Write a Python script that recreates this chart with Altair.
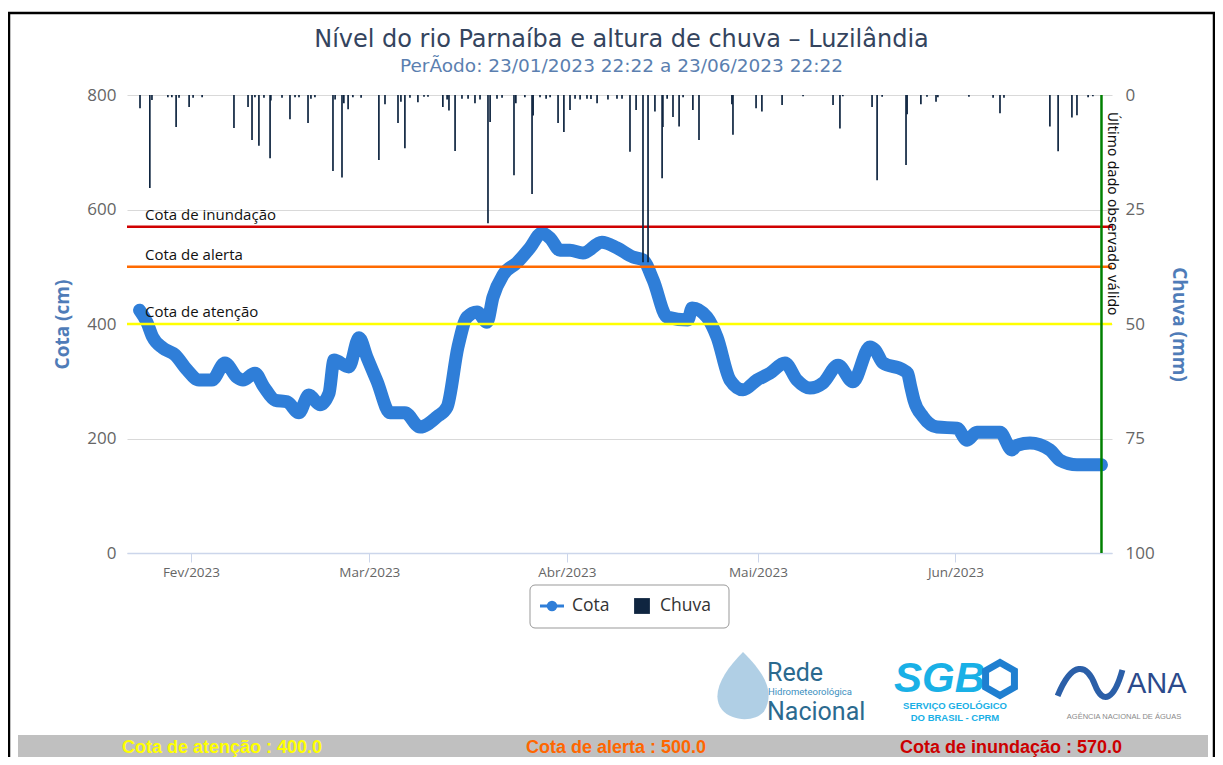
import altair as alt
import pandas as pd

# ---------------- data ----------------
cota_dates = [
    "2023-01-23T22:22", "2023-01-25T02:00", "2023-01-26T00:00", "2023-01-27T14:00", "2023-01-29T12:00",
    "2023-01-31T09:00", "2023-02-02T06:00", "2023-02-04T07:00", "2023-02-06T08:00", "2023-02-08T05:00",
    "2023-02-09T04:00", "2023-02-11T01:00", "2023-02-12T11:00", "2023-02-14T05:00", "2023-02-16T02:00",
    "2023-02-17T23:00", "2023-02-19T12:00", "2023-02-21T06:00", "2023-02-22T16:00", "2023-02-23T11:00",
    "2023-02-25T19:00", "2023-02-27T09:00", "2023-02-28T15:00", "2023-03-02T05:00", "2023-03-04T06:00",
    "2023-03-06T14:00", "2023-03-08T23:00", "2023-03-11T15:00", "2023-03-13T05:00", "2023-03-14T22:00",
    "2023-03-16T08:00", "2023-03-17T22:00", "2023-03-19T11:00", "2023-03-20T10:00", "2023-03-22T00:00",
    "2023-03-24T04:00", "2023-03-26T05:00", "2023-03-28T02:00", "2023-03-29T09:00", "2023-03-30T22:00",
    "2023-04-01T12:00", "2023-04-03T13:00", "2023-04-06T12:00", "2023-04-08T21:00", "2023-04-11T09:00",
    "2023-04-12T23:00", "2023-04-14T13:00", "2023-04-16T18:00", "2023-04-20T00:00", "2023-04-20T16:00",
    "2023-04-23T00:00", "2023-04-24T14:00", "2023-04-26T15:00", "2023-04-28T16:00", "2023-04-30T20:00",
    "2023-05-02T21:00", "2023-05-05T06:00", "2023-05-07T03:00", "2023-05-09T04:00", "2023-05-11T05:00",
    "2023-05-13T14:00", "2023-05-15T22:00", "2023-05-18T14:00", "2023-05-19T09:00", "2023-05-20T15:00",
    "2023-05-23T18:00", "2023-05-24T12:00", "2023-05-25T00:00", "2023-05-25T12:00", "2023-05-26T22:00",
    "2023-05-29T03:00", "2023-06-01T06:00", "2023-06-02T20:00", "2023-06-04T09:00", "2023-06-08T00:00",
    "2023-06-09T21:00", "2023-06-10T16:00", "2023-06-12T17:00", "2023-06-15T20:00", "2023-06-17T10:00",
    "2023-06-20T02:00", "2023-06-23T22:22",
]
cota_values = [
    424, 403, 377, 358, 346,
    320, 302, 302, 332, 307,
    302, 314, 290, 267, 264,
    245, 276, 259, 279, 337,
    325, 376, 342, 300, 245,
    245, 220, 238, 255, 360,
    412, 421, 403, 447, 486,
    507, 533, 559, 550, 529,
    529, 524, 543, 533, 517,
    512, 477, 412, 407, 428,
    412, 377, 302, 285, 302,
    314, 332, 302, 288, 297,
    328, 299, 360, 355, 332,
    320, 314, 290, 267, 238,
    220, 218, 197, 211, 211,
    180, 188, 192, 180, 162,
    154, 154,
]

chuva_dates = [
    "2023-01-24T00:00", "2023-01-25T13:00", "2023-01-25T21:00", "2023-01-28T09:00", "2023-01-29T00:00",
    "2023-01-29T16:00", "2023-01-30T03:00", "2023-01-31T17:00", "2023-02-01T08:00", "2023-02-02T18:00",
    "2023-02-07T18:00", "2023-02-09T23:00", "2023-02-10T14:00", "2023-02-11T01:00", "2023-02-11T16:00",
    "2023-02-12T11:00", "2023-02-13T10:00", "2023-02-13T13:00", "2023-02-15T07:00", "2023-02-16T13:00",
    "2023-02-17T08:00", "2023-02-17T23:00", "2023-02-19T09:00", "2023-02-19T20:00", "2023-02-20T11:00",
    "2023-02-23T07:00", "2023-02-23T15:00", "2023-02-24T17:00", "2023-02-25T00:00", "2023-02-25T16:00",
    "2023-02-26T10:00", "2023-02-27T17:00", "2023-03-02T12:00", "2023-03-03T11:00", "2023-03-05T12:00",
    "2023-03-05T23:00", "2023-03-06T14:00", "2023-03-07T09:00", "2023-03-08T15:00", "2023-03-09T14:00",
    "2023-03-10T05:00", "2023-03-12T13:00", "2023-03-13T05:00", "2023-03-13T12:00", "2023-03-14T11:00",
    "2023-03-15T13:00", "2023-03-16T12:00", "2023-03-17T14:00", "2023-03-18T09:00", "2023-03-19T15:00",
    "2023-03-19T23:00", "2023-03-21T01:00", "2023-03-21T20:00", "2023-03-23T17:00", "2023-03-24T00:00",
    "2023-03-25T10:00", "2023-03-26T13:00", "2023-03-26T17:00", "2023-03-27T19:00", "2023-03-28T18:00",
    "2023-03-29T09:00", "2023-03-30T15:00", "2023-03-31T13:00", "2023-04-01T12:00", "2023-04-02T07:00",
    "2023-04-03T02:00", "2023-04-04T04:00", "2023-04-04T19:00", "2023-04-05T18:00", "2023-04-07T11:00",
    "2023-04-08T21:00", "2023-04-09T16:00", "2023-04-10T22:00", "2023-04-11T21:00", "2023-04-12T23:00",
    "2023-04-13T18:00", "2023-04-14T20:00", "2023-04-15T23:00", "2023-04-16T02:00", "2023-04-16T18:00",
    "2023-04-17T16:00", "2023-04-18T15:00", "2023-04-19T06:00", "2023-04-20T19:00", "2023-04-21T18:00",
    "2023-04-26T22:00", "2023-04-27T02:00", "2023-04-30T17:00", "2023-05-01T15:00", "2023-05-04T19:00",
    "2023-05-08T02:00", "2023-05-12T19:00", "2023-05-13T21:00", "2023-05-14T08:00", "2023-05-18T22:00",
    "2023-05-19T17:00", "2023-05-20T12:00", "2023-05-24T06:00", "2023-05-24T10:00", "2023-05-26T14:00",
    "2023-05-27T13:00", "2023-05-28T23:00", "2023-05-29T06:00", "2023-06-03T03:00", "2023-06-06T22:00",
    "2023-06-08T00:00", "2023-06-08T15:00", "2023-06-15T20:00", "2023-06-17T03:00", "2023-06-19T07:00",
    "2023-06-20T02:00", "2023-06-21T20:00", "2023-06-22T14:00",
]
chuva_values = [
    2.9, 20.3, 1.1, 0.5, 0.5,
    7.0, 0.6, 2.6, 0.6, 0.5,
    7.2, 2.6, 9.8, 0.5, 11.1,
    0.6, 13.8, 1.2, 0.6, 5.3,
    0.5, 0.5, 6.1, 0.8, 0.5,
    16.6, 1.0, 18.0, 1.8, 3.1,
    0.5, 0.6, 14.2, 2.0, 6.1,
    1.5, 11.6, 0.6, 1.6, 0.4,
    0.4, 2.6, 1.0, 3.4, 12.2,
    0.8, 0.8, 1.8, 1.0, 28.0,
    5.9, 0.8, 0.6, 17.5, 1.8,
    0.5, 21.6, 4.5, 0.5, 0.8,
    0.5, 6.1, 8.1, 3.3, 0.8,
    1.0, 0.8, 0.9, 1.8, 1.0,
    0.8, 0.8, 12.4, 3.3, 36.5,
    36.5, 3.6, 18.2, 7.0, 0.8,
    4.8, 6.9, 0.5, 3.3, 9.8,
    2.0, 8.7, 2.9, 3.6, 2.2,
    0.3, 2.2, 7.3, 0.3, 2.6,
    18.6, 0.4, 15.3, 4.2, 2.0,
    0.4, 1.5, 0.5, 0.4, 0.6,
    4.0, 0.6, 6.9, 12.3, 4.9,
    4.4, 0.5, 0.3,
]

threshold_names = ["Cota de inundação", "Cota de alerta", "Cota de atenção"]
threshold_values = [570, 500, 400]
threshold_colors = ["#d00000", "#ff6a00", "#ffff00"]
threshold_footer_colors = ["#cc0000", "#ff6600", "#ffff00"]

month_ticks = [(2023, 2), (2023, 3), (2023, 4), (2023, 5), (2023, 6)]
last_obs_date = "2023-06-23T22:22"

title_text = "Nível do rio Parnaíba e altura de chuva \u2013 Luzilândia"
subtitle_text = "PerÃodo: 23/01/2023 22:22 a 23/06/2023 22:22"

# ---------------- frames ----------------
cota_df = pd.DataFrame({"data": cota_dates, "cota": cota_values})
chuva_df = pd.DataFrame({"data": chuva_dates, "chuva": chuva_values, "zero": [0] * len(chuva_values)})
thr_df = pd.DataFrame({"nome": threshold_names, "valor": threshold_values, "cor": threshold_colors})
last_df = pd.DataFrame({"data": [last_obs_date]})

W, H = 985, 458
FONT = "Open Sans"

x_scale = alt.Scale(domain=[alt.DateTime(year=2023, month=1, date=21, hours=23),
                            alt.DateTime(year=2023, month=6, date=25, hours=14)])
x_axis = alt.Axis(
    values=[alt.DateTime(year=y, month=m, date=1) for y, m in month_ticks],
    labelExpr="['Jan','Fev','Mar','Abr','Mai','Jun','Jul','Ago','Set','Out','Nov','Dez'][month(datum.value)] + '/' + year(datum.value)",
    title=None, grid=False, domainColor="#ccd6eb", domainWidth=1.5, tickColor="#ccd6eb",
    tickSize=9, labelColor="#666666", labelFontSize=13.5, labelPadding=3, labelFont=FONT,
)
y_left = alt.Scale(domain=[0, 800])
y_right = alt.Scale(domain=[0, 100], reverse=True)

left_axis = alt.Axis(
    values=[0, 200, 400, 600, 800], grid=True, gridColor="#d9d9d9", domain=False, ticks=False,
    tickSize=0, labelColor="#666666", labelFontSize=17, labelPadding=11, labelFont=FONT,
    title="Cota (cm)", titleColor="#4f7cb8", titleFontSize=19, titleFontWeight="bold", titleFont=FONT,
    titleAngle=270, titleX=-65, titleY=H / 2, titleAlign="center", titleBaseline="middle",
)
right_axis = alt.Axis(
    orient="right", values=[0, 25, 50, 75, 100], grid=False, domain=False, ticks=False, tickSize=0,
    labelColor="#666666", labelFontSize=17, labelPadding=13, labelFont=FONT,
    title="Chuva (mm)", titleColor="#4f7cb8", titleFontSize=19, titleFontWeight="bold", titleFont=FONT,
    titleAngle=90, titleX=66, titleY=H / 2, titleAlign="center", titleBaseline="middle",
)

cota_line = alt.Chart(cota_df).mark_line(
    color="#2f7ed8", strokeWidth=13, strokeCap="round", strokeJoin="round", interpolate="monotone"
).encode(
    x=alt.X("data:T", scale=x_scale, axis=x_axis),
    y=alt.Y("cota:Q", scale=y_left, axis=left_axis),
)

thr_rules = alt.Chart(thr_df).mark_rule(strokeWidth=2.6).encode(
    y=alt.Y("valor:Q", scale=y_left, axis=None),
    x=alt.value(0), x2=alt.value(W),
    color=alt.Color("cor:N", scale=None),
)

rain = alt.Chart(chuva_df).mark_rule(color="#0f2540", strokeWidth=1.7).encode(
    x=alt.X("data:T", scale=x_scale),
    y=alt.Y("zero:Q", scale=y_right, axis=right_axis),
    y2="chuva:Q",
)

thr_labels = alt.Chart(thr_df).mark_text(
    align="left", baseline="alphabetic", dy=-7, fontSize=15, font=FONT, color="#111111"
).encode(
    x=alt.value(18),
    y=alt.Y("valor:Q", scale=y_left, axis=None),
    text="nome:N",
)

green = alt.Chart(last_df).mark_rule(color="#008000", strokeWidth=2.5).encode(
    x=alt.X("data:T", scale=x_scale)
)
green_txt = alt.Chart(pd.DataFrame({"t": ["Último dado observado válido"]})).mark_text(
    angle=90, align="left", baseline="middle", fontSize=13.6, font="DejaVu Sans", color="#111111"
).encode(x=alt.value(W), y=alt.value(17), text="t:N")


def txt(t, x, y, size, color, weight="normal", align="center", font=FONT, style=None, baseline="middle"):
    kw = dict(align=align, baseline=baseline, fontSize=size, color=color, fontWeight=weight, font=font)
    if style:
        kw["fontStyle"] = style
    return alt.Chart(pd.DataFrame({"t": [t]})).mark_text(**kw).encode(
        x=alt.value(x), y=alt.value(y), text="t:N")


title = txt(title_text, W / 2 + 2, 47 - 95, 24, "#34445e", font="DejaVu Sans", baseline="alphabetic")
subtitle = txt(subtitle_text, W / 2 + 2, 72 - 95, 18.5, "#5b7fb0", font="DejaVu Sans", baseline="alphabetic")

one = pd.DataFrame({"k": [0]})
# legend
legend_box = alt.Chart(one).mark_rect(fill="white", stroke="#999999", strokeWidth=1, cornerRadius=5).encode(
    x=alt.value(403), x2=alt.value(602), y=alt.value(490), y2=alt.value(533))
legend_line = alt.Chart(one).mark_rule(color="#2f7ed8", strokeWidth=3).encode(
    x=alt.value(413), x2=alt.value(437), y=alt.value(511))
legend_dot = alt.Chart(one).mark_point(shape="circle", filled=True, color="#2f7ed8", size=110, opacity=1).encode(
    x=alt.value(425), y=alt.value(511))
legend_sq = alt.Chart(one).mark_point(shape="square", filled=True, color="#0f2540", size=250, opacity=1).encode(
    x=alt.value(515), y=alt.value(511))
legend_t1 = txt("Cota", 445, 511, 17.5, "#333333", align="left")
legend_t2 = txt("Chuva", 533, 511, 17.5, "#333333", align="left")

# footer bar
footer = alt.Chart(one).mark_rect(fill="#c0c0c0").encode(
    x=alt.value(-109), x2=alt.value(1081), y=alt.value(640), y2=alt.value(680))
f1 = txt("Cota de atenção : %.1f" % threshold_values[2], 95, 653, 18, threshold_footer_colors[2], "bold", font="Liberation Sans")
f2 = txt("Cota de alerta : %.1f" % threshold_values[1], 489, 653, 18, threshold_footer_colors[1], "bold", font="Liberation Sans")
f3 = txt("Cota de inundação : %.1f" % threshold_values[0], 884, 653, 18, threshold_footer_colors[0], "bold", font="Liberation Sans")

# logos (text approximations)
drop = alt.Chart(one).mark_point(
    shape="M0,-1 C0.55,-0.45 0.95,0.1 0.6,0.7 C0.35,1 -0.3,1 -0.6,0.65 C-0.95,0.2 -0.55,-0.45 0,-1Z",
    filled=True, color="#6fa8cf", opacity=0.55, size=4900).encode(x=alt.value(616), y=alt.value(592))
rede1 = txt("Rede", 640, 578, 25, "#2b6a8f", align="left", font="Roboto")
rede2 = txt("Hidrometeorológica", 641, 597, 9.5, "#3b8fc0", align="left", font="Roboto")
rede3 = txt("Nacional", 640, 617, 25, "#2b6a8f", align="left", font="Roboto")
sgb = txt("SGB", 767, 584, 42, "#19b0e6", "bold", align="left", font="Liberation Sans", style="italic")
hexa = alt.Chart(one).mark_point(
    shape="M0,-1 L0.87,-0.5 L0.87,0.5 L0,1 L-0.87,0.5 L-0.87,-0.5 Z",
    filled=False, color="#1f7fd0", strokeWidth=7, size=1100, opacity=1).encode(x=alt.value(873), y=alt.value(584))
sgb2 = txt("SERVIÇO GEOLÓGICO", 828, 611, 9.5, "#19b0e6", "bold", font="Liberation Sans")
sgb3 = txt("DO BRASIL - CPRM", 828, 623, 9.5, "#19b0e6", "bold", font="Liberation Sans")
wave = alt.Chart(one).mark_point(
    shape="M-1,0.4 C-0.55,-0.7 -0.1,-0.6 0.15,0.05 C0.4,0.7 0.75,0.5 1,-0.4",
    filled=False, color="#2b5fa8", strokeWidth=6, size=4200, opacity=1).encode(x=alt.value(963), y=alt.value(588))
ana = txt("ANA", 1000, 589, 29, "#2b4a8b", align="left", font="Liberation Sans")
ana2 = txt("AGÊNCIA NACIONAL DE ÁGUAS", 997, 622, 7.5, "#8a8a8a", font="Liberation Sans")

# outer frame
fr_left = alt.Chart(one).mark_rule(color="black", strokeWidth=2.5).encode(
    x=alt.value(-118), y=alt.value(-82), y2=alt.value(700))
fr_top = alt.Chart(one).mark_rule(color="black", strokeWidth=2.5).encode(
    x=alt.value(-119), x2=alt.value(1089), y=alt.value(-82))
fr_right = alt.Chart(one).mark_rule(color="black", strokeWidth=2.5).encode(
    x=alt.value(1087), y=alt.value(-82), y2=alt.value(700))

chart = alt.layer(
    cota_line, thr_rules, rain, thr_labels, green, green_txt, title, subtitle,
    legend_box, legend_line, legend_dot, legend_sq, legend_t1, legend_t2,
    footer, f1, f2, f3,
    drop, rede1, rede2, rede3, sgb, hexa, sgb2, sgb3, wave, ana, ana2,
    fr_left, fr_top, fr_right,
).resolve_scale(y="independent").properties(
    width=W, height=H,
    padding={"left": 119, "top": 87, "right": 103, "bottom": 204},
    autosize=alt.AutoSizeParams(type="none"),
    background="white",
).configure_view(stroke=None).configure_text(font=FONT)

chart.save("out.html", embed_options={"renderer": "svg", "actions": False})
